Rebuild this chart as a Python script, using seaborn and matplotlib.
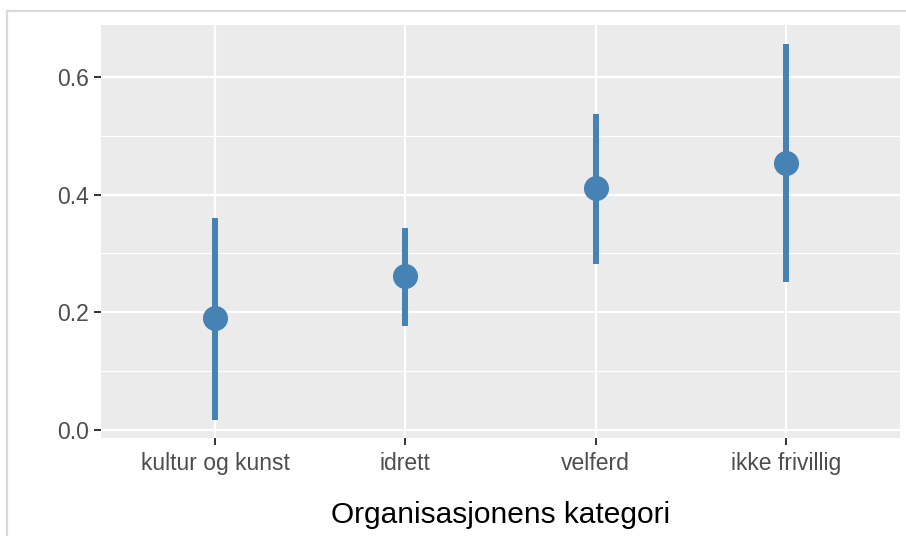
import matplotlib
matplotlib.use("Agg")
import matplotlib.pyplot as plt
from matplotlib.lines import Line2D
from matplotlib.ticker import MultipleLocator
import pandas as pd
import seaborn as sns

# estimates with confidence intervals, per category
kategori = ["kultur og kunst", "idrett", "velferd", "ikke frivillig"]
estimat = [0.19, 0.262, 0.411, 0.454]
nedre = [0.017, 0.177, 0.282, 0.252]
ovre = [0.360, 0.343, 0.537, 0.655]

df = pd.DataFrame({"kategori": kategori, "estimat": estimat,
                   "nedre": nedre, "ovre": ovre})

sns.set_theme(style="darkgrid")
plt.rcParams["font.family"] = ["Liberation Sans", "DejaVu Sans"]

fig = plt.figure(figsize=(9.06, 5.36), dpi=100)
ax = fig.add_axes([0.1115, 0.1828, 0.8819, 0.7706])
ax.set_facecolor("#EBEBEB")

# confidence intervals
ax.vlines(x=range(len(df)), ymin=df["nedre"], ymax=df["ovre"],
          color="steelblue", linewidth=4.3, zorder=3)
sns.pointplot(data=df, x="kategori", y="estimat", order=kategori,
              errorbar=None, linestyle="none", color="steelblue",
              markers="o", markersize=16, ax=ax, zorder=4)

ax.set_xlim(-0.6, 3.6)
ax.set_ylim(-0.0136, 0.688)
ax.yaxis.set_major_locator(MultipleLocator(0.2))
ax.yaxis.set_minor_locator(MultipleLocator(0.1))
ax.set_yticklabels([f"{v:.1f}" for v in ax.get_yticks()])

ax.grid(which="major", color="white", linewidth=1.6)
ax.grid(which="minor", axis="y", color="white", linewidth=0.8)
ax.set_axisbelow(True)
for s in ax.spines.values():
    s.set_visible(False)

ax.tick_params(axis="both", which="major", bottom=True, left=True,
               length=5, width=1.4, color="#333333", labelcolor="#4D4D4D",
               labelsize=16.5, pad=4)
ax.tick_params(axis="both", which="minor", length=0)
ax.tick_params(axis="x", pad=5)

ax.set_xlabel("Organisasjonens kategori", fontsize=21.5, color="black", labelpad=19)
ax.set_ylabel("")

# light frame from the surrounding page
fig.add_artist(Line2D([7 / 906, 1], [1 - 11 / 536, 1 - 11 / 536],
                      transform=fig.transFigure, color="#D9D9D9", linewidth=1.6))
fig.add_artist(Line2D([7 / 906, 7 / 906], [0, 1 - 11 / 536],
                      transform=fig.transFigure, color="#D9D9D9", linewidth=1.6))

fig.savefig("out.png", dpi=100)
